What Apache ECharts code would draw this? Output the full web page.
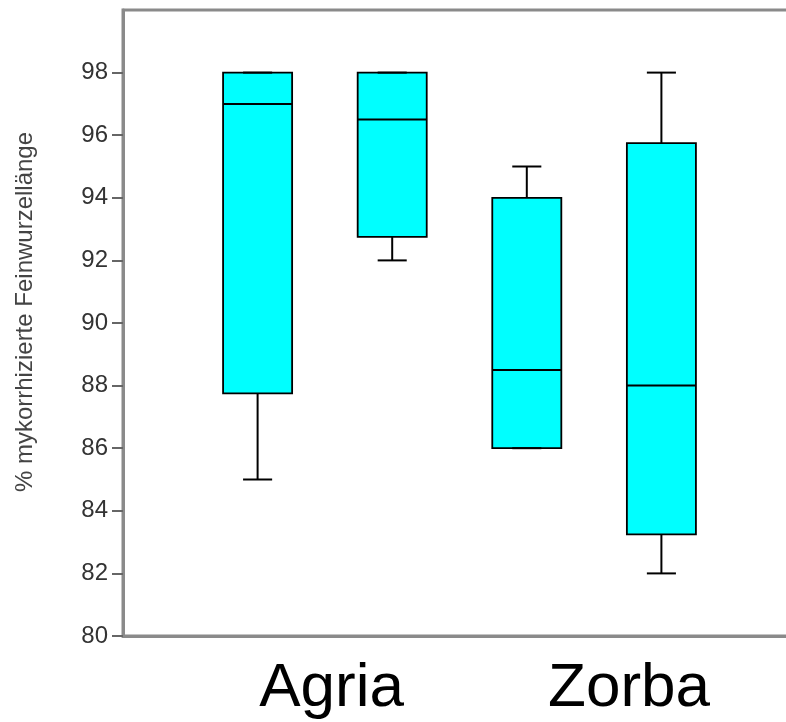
<!DOCTYPE html>
<html>
<head>
<meta charset="utf-8">
<script src="https://cdn.jsdelivr.net/npm/echarts@6/dist/echarts.min.js"></script>
<style>
html,body{margin:0;padding:0;background:#fff;}
#chart{width:786px;height:722px;}
</style>
</head>
<body>
<div id="chart"></div>
<script>
// Data
const boxPositions = [1, 2, 3, 4];
const lowerWhisker = [85, 92, 86, 82];
const q1Values     = [87.75, 92.75, 86, 83.25];
const medianValues = [97, 96.5, 88.5, 88];
const q3Values     = [98, 98, 94, 95.75];
const upperWhisker = [98, 98, 95, 98];
const groupNames = ['Agria', 'Zorba'];
const groupLabelAt = [1.55, 3.76];
const yTicks = [80, 82, 84, 86, 88, 90, 92, 94, 96, 98];
const yTitle = '% mykorrhizierte Feinwurzellänge';

const boxData = boxPositions.map((p, i) => [p, lowerWhisker[i], q1Values[i], medianValues[i], q3Values[i], upperWhisker[i]]);

const chart = echarts.init(document.getElementById('chart'), null, {renderer: 'canvas'});
const FONT = '"Liberation Sans", Arial, sans-serif';

chart.setOption({
  animation: false,
  backgroundColor: '#ffffff',
  grid: {
    left: 123, width: 673, top: 10, bottom: 86,
    outerBoundsMode: 'none',
    containLabel: false,
    show: true, borderColor: '#8a8a8a', borderWidth: 3, backgroundColor: 'transparent'
  },
  xAxis: {
    type: 'value', min: 0, max: 5,
    splitLine: {show: false},
    axisLine: {show: true, lineStyle: {color: '#8a8a8a', width: 3}},
    axisTick: {show: false},
    axisLabel: {
      show: true,
      customValues: groupLabelAt,
      formatter: function (v) {
        const idx = groupLabelAt.findIndex(g => Math.abs(g - v) < 1e-6);
        return idx >= 0 ? groupNames[idx] : '';
      },
      fontFamily: FONT, fontSize: 62, color: '#000', margin: 22
    }
  },
  yAxis: {
    type: 'value', min: 80, max: 100, interval: 2,
    splitLine: {show: false},
    axisLine: {show: true, lineStyle: {color: '#8a8a8a', width: 3}},
    axisTick: {show: true, customValues: yTicks, length: 11, lineStyle: {color: '#666', width: 2}},
    axisLabel: {
      customValues: yTicks,
      fontFamily: FONT, fontSize: 24, color: '#333', margin: 15
    },
    name: yTitle,
    nameLocation: 'middle',
    nameRotate: 90,
    nameGap: 86,
    nameTextStyle: {fontFamily: FONT, fontSize: 24, color: '#444', padding: [0, 0, 0, 22]}
  },
  series: [{
    type: 'custom',
    data: boxData,
    encode: {x: 0, y: [1, 2, 3, 4, 5]},
    renderItem: function (params, api) {
      const x = api.value(0);
      const lo = api.coord([x, api.value(1)]);
      const q1 = api.coord([x, api.value(2)]);
      const md = api.coord([x, api.value(3)]);
      const q3 = api.coord([x, api.value(4)]);
      const hi = api.coord([x, api.value(5)]);
      const band = api.size([1, 0])[0];
      const bw = band * 0.513;
      const cw = band * 0.216;
      const cx = lo[0];
      const line = {stroke: '#000', lineWidth: 2};
      return {
        type: 'group',
        children: [
          {type: 'line', shape: {x1: cx, y1: hi[1], x2: cx, y2: q3[1]}, style: line},
          {type: 'line', shape: {x1: cx, y1: lo[1], x2: cx, y2: q1[1]}, style: line},
          {type: 'rect', shape: {x: cx - bw / 2, y: q3[1], width: bw, height: q1[1] - q3[1]},
            style: {fill: '#00ffff', stroke: '#000', lineWidth: 1.8}},
          {type: 'line', shape: {x1: cx - bw / 2, y1: md[1], x2: cx + bw / 2, y2: md[1]}, style: line},
          {type: 'line', shape: {x1: cx - cw / 2, y1: hi[1], x2: cx + cw / 2, y2: hi[1]}, style: line},
          {type: 'line', shape: {x1: cx - cw / 2, y1: lo[1], x2: cx + cw / 2, y2: lo[1]}, style: line}
        ]
      };
    }
  }]
});
</script>
</body>
</html>
